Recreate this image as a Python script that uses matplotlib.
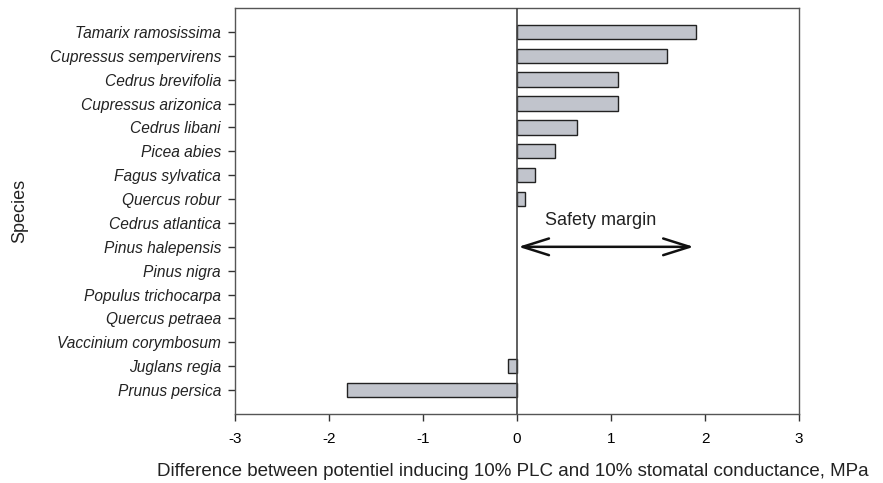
import numpy as np
import matplotlib.pyplot as plt

plt.rcParams['font.family'] = ['Liberation Sans', 'DejaVu Sans']

species = ['Tamarix ramosissima', 'Cupressus sempervirens', 'Cedrus brevifolia',
           'Cupressus arizonica', 'Cedrus libani', 'Picea abies', 'Fagus sylvatica',
           'Quercus robur', 'Cedrus atlantica', 'Pinus halepensis', 'Pinus nigra',
           'Populus trichocarpa', 'Quercus petraea', 'Vaccinium corymbosum',
           'Juglans regia', 'Prunus persica']
margin = [1.90, 1.60, 1.075, 1.075, 0.64, 0.405, 0.19, 0.09,
          0.0, 0.0, 0.0, 0.0, 0.0, 0.0, -0.10, -1.81]
xticks = [-3, -2, -1, 0, 1, 2, 3]

fig = plt.figure(figsize=(8.83, 4.83), dpi=100)
ax = fig.add_axes([235 / 883, 1 - 414 / 483, (799 - 235) / 883, (414 - 8) / 483])

y = np.arange(len(species))[::-1] + 1
nonzero = [i for i, v in enumerate(margin) if v != 0]
ax.barh(y[nonzero], [margin[i] for i in nonzero], height=0.6,
        color='#c1c4cc', edgecolor='#222222', linewidth=1.0, zorder=2)
ax.axvline(0, color='#444444', linewidth=1.2, zorder=3)

ax.set_xlim(-3, 3)
ax.set_ylim(0, len(species) + 1)
ax.set_xticks(xticks)
ax.set_xticklabels([str(t) for t in xticks], fontsize=11)
ax.set_yticks(y)
ax.set_yticklabels(species, fontsize=11.2, style='italic', color='#222222')
ax.tick_params(direction='out', length=5, width=1, color='#333333', pad=5)
ax.tick_params(axis='x', pad=8)
for s in ax.spines.values():
    s.set_color('#555555')
    s.set_linewidth(1.0)

# axis titles placed on the figure
fig.text(513 / 883, 1 - 471 / 483,
         'Difference between potentiel inducing 10% PLC and 10% stomatal conductance, MPa',
         fontsize=13.5, ha='center', va='center', color='#222222')
fig.text(20 / 883, 1 - 211 / 483, 'Species', fontsize=13, rotation=90,
         ha='center', va='center', color='#222222')

ax.annotate('', xy=(0.015, 7), xytext=(1.88, 7),
            arrowprops=dict(arrowstyle='<->,head_length=1.9,head_width=0.6',
                            color='#111111', lw=1.8, shrinkA=0, shrinkB=0))
ax.text(0.89, 8.12, 'Safety margin', fontsize=13, ha='center', va='center',
        color='#222222')

fig.savefig('out.png', dpi=100)
